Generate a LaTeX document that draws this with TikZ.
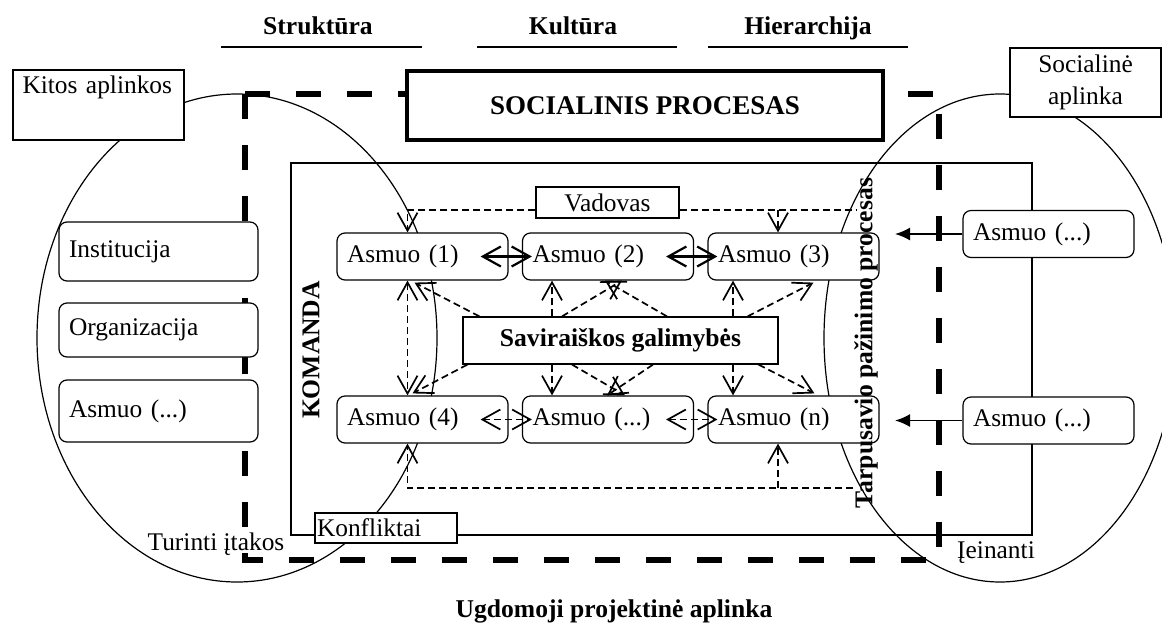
\documentclass[tikz,border=0pt]{standalone}
\usepackage{fontspec}
\setmainfont{Liberation Serif}
\usepackage{tikz}
\usetikzlibrary{arrows.meta,positioning,calc}

\begin{document}
\begin{tikzpicture}[
  x=0.5pt, y=-0.5pt,
  font=\fontsize{12.7}{15.5}\selectfont,
  box/.style={draw, rectangle, fill=white, line width=0.6pt},
  person/.style={box, rounded corners=4pt, minimum width=85.5pt, minimum height=23.5pt,
                 text width=75.5pt, inner xsep=5pt, inner ysep=0pt, align=left},
  unit/.style={box, rounded corners=4pt, minimum height=27pt,
               text width=89.5pt, inner xsep=5pt, inner ysep=0pt, align=left},
  topic/.style={font=\fontsize{12.8}{15.5}\selectfont\bfseries},
  frame/.style={draw, line width=2.6pt, dash pattern=on 12.5pt off 13pt},
  dline/.style={line width=0.85pt, dash pattern=on 3.5pt off 2pt},
  darrow/.style={dline, -{Straight Barb[length=9pt, width=10pt]}},
  biarrow/.style={line width=1.1pt, {Straight Barb[length=9pt, width=10pt]}-{Straight Barb[length=9pt, width=10pt]}},
  dbiarrow/.style={dline, {Straight Barb[length=9pt, width=10pt]}-{Straight Barb[length=9pt, width=10pt]}},
  inarrow/.style={line width=0.9pt, -{Latex[length=7.5pt, width=6.5pt]}}
]
\useasboundingbox (0,0) rectangle (1162,622);

% Environments (background)
\draw[line width=0.6pt] (237,338) ellipse [x radius=100pt, y radius=122pt];
\draw[line width=0.6pt] (1000,338) ellipse [x radius=88pt, y radius=122pt];
\draw[frame] (245,94) rectangle (939,560);
\draw[line width=0.8pt] (291,163) rectangle (1032,535);

% Top: what frames the process
\node[topic, anchor=base] (struct) at (318,34) {Struktūra};
\draw[line width=0.7pt] (221,47) -- (422,47);
\node[topic, anchor=base] (culture) at (573,34) {Kultūra};
\draw[line width=0.7pt] (477,47) -- (677,47);
\node[topic, anchor=base] (hier) at (808,34) {Hierarchija};
\draw[line width=0.7pt] (708,47) -- (908,47);

\node[box, line width=2pt, minimum width=238pt, minimum height=34.5pt,
      font=\fontsize{13.5}{16}\selectfont\bfseries] (proc) at (645,105.5) {SOCIALINIS PROCESAS};

% Outer environments
\node[box, minimum width=85.5pt, minimum height=35pt, text width=76pt, inner xsep=4.75pt,
      inner ysep=3pt, text depth=20pt, align=left] (otherenv) at (98.5,105) {Kitos aplinkos};
\node[box, minimum width=75.5pt, minimum height=34.5pt, align=center,
      font=\fontsize{12.7}{16}\selectfont] (socenv) at (1085.5,82.5) {Socialinė\\aplinka};

\node[unit, minimum height=29.5pt] (inst) at (158.5,251.5) {Institucija};
\node[unit] (org) at (158.5,330) {Organizacija};
\node[unit, minimum height=31pt] (lperson) at (158.5,411) {Asmuo (...)};

\node[person] (rp1) at (1048.5,234) {Asmuo (...)};
\node[person] (rp2) at (1048.5,420.5) {Asmuo (...)};

% Team
\node[box, minimum width=71.5pt, minimum height=15.5pt, inner sep=0pt] (lead) at (607.5,202.5) {Vadovas};

\node[person] (p1) at (422.5,256.5) {Asmuo (1)};
\node[person] (p2) at (608,256.5) {Asmuo (2)};
\node[person] (p3) at (793.5,256.5) {Asmuo (3)};
\node[person] (p4) at (422.5,419.5) {Asmuo (4)};
\node[person] (p5) at (608,419.5) {Asmuo (...)};
\node[person] (pn) at (793.5,419.5) {Asmuo (n)};

\node[box, minimum width=157.5pt, minimum height=23.5pt,
      font=\fontsize{12.8}{15.5}\selectfont\bfseries] (self) at (620.5,340.5) {Saviraiškos galimybės};

\node[box, minimum width=71pt, minimum height=15pt, text width=69pt, inner sep=1pt,
      align=left] (conf) at (386,528) {Konfliktai};

% Leader loop
\coordinate (v1) at ($(p1.north)+(-15,0)$);
\coordinate (v3) at ($(p3.north)+(-15.5,0)$);
\coordinate (vend) at (857,210);
\draw[darrow] ($(lead.west)+(0,7.5)$) -- (v1 |- vend) -- (v1);
\draw[dline] ($(lead.east)+(0,7.5)$) -- (vend);
\draw[darrow] (v3 |- vend) -- (v3);

% Lower loop
\coordinate (b4) at ($(p4.south)+(-15,0)$);
\coordinate (bn) at ($(pn.south)+(-15.5,0)$);
\coordinate (bend) at (853,488);
\draw[darrow] (bend) -- (b4 |- bend) -- (b4);
\draw[darrow] (bn |- bend) -- (bn);

% Links between persons
\draw[biarrow] ($(p1.east)+(-28,0)$) -- ($(p2.west)+(10,0)$);
\draw[biarrow] ($(p2.east)+(-28,0)$) -- ($(p3.west)+(10,0)$);
\draw[dbiarrow] ($(p4.east)+(-28,0)$) -- ($(p5.west)+(10,0)$);
\draw[dbiarrow] ($(p5.east)+(-28,0)$) -- ($(pn.west)+(10,0)$);
\draw[dbiarrow] ($(p1.south)+(-15,0)$) -- ($(p4.north)+(-15,0)$);

% Self-expression links
\draw[darrow] ($(self.north west)+(17,0)$) -- ($(p1.south)+(-8,2)$);
\draw[darrow] ($(self.south west)+(5,0)$) -- ($(p4.north)+(-10,-2)$);
\draw[darrow] ($(self.north)+(-68.5,0)$) -- ($(p2.south)+(-56,0)$);
\draw[darrow] ($(self.south)+(-68.5,0)$) -- ($(p5.north)+(-56,0)$);
\draw[darrow] ($(self.north)+(-58.5,0)$) -- ($(p2.south)+(14,0)$);
\draw[darrow] ($(self.north)+(46.5,0)$) -- ($(p2.south)+(-3,0)$);
\draw[darrow] ($(self.south)+(-48.5,0)$) -- ($(p5.north)+(17,0)$);
\draw[darrow] ($(self.south)+(32.5,0)$) -- ($(p5.north)+(-1,0)$);
\draw[darrow] ($(self.north)+(112.5,0)$) -- ($(p3.south)+(-60.5,0)$);
\draw[darrow] ($(self.south)+(112.5,0)$) -- ($(pn.north)+(-60.5,0)$);
\draw[darrow] ($(self.north east)+(-31,0)$) -- ($(p3.south)+(20,2)$);
\draw[darrow] ($(self.south east)+(-20,0)$) -- ($(pn.north)+(21,-2)$);

% Incoming persons
\coordinate (in1) at (895,234);
\coordinate (in2) at (895,420.5);
\draw[inarrow] (rp1.west) -- (in1);
\draw[inarrow] (rp2.west) -- (in2);

% Labels
\node[topic, rotate=90] (team) at (311,350) {KOMANDA};
\node[topic, rotate=90] (mutual) at (866,343) {Tarpusavio pažinimo procesas};
\node (influence) at (216,544) {Turinti įtakos};
\node (incoming) at (996,553) {Įeinanti};
\node[topic, anchor=base] (project) at (614,617) {Ugdomoji projektinė aplinka};

\end{tikzpicture}
\end{document}
